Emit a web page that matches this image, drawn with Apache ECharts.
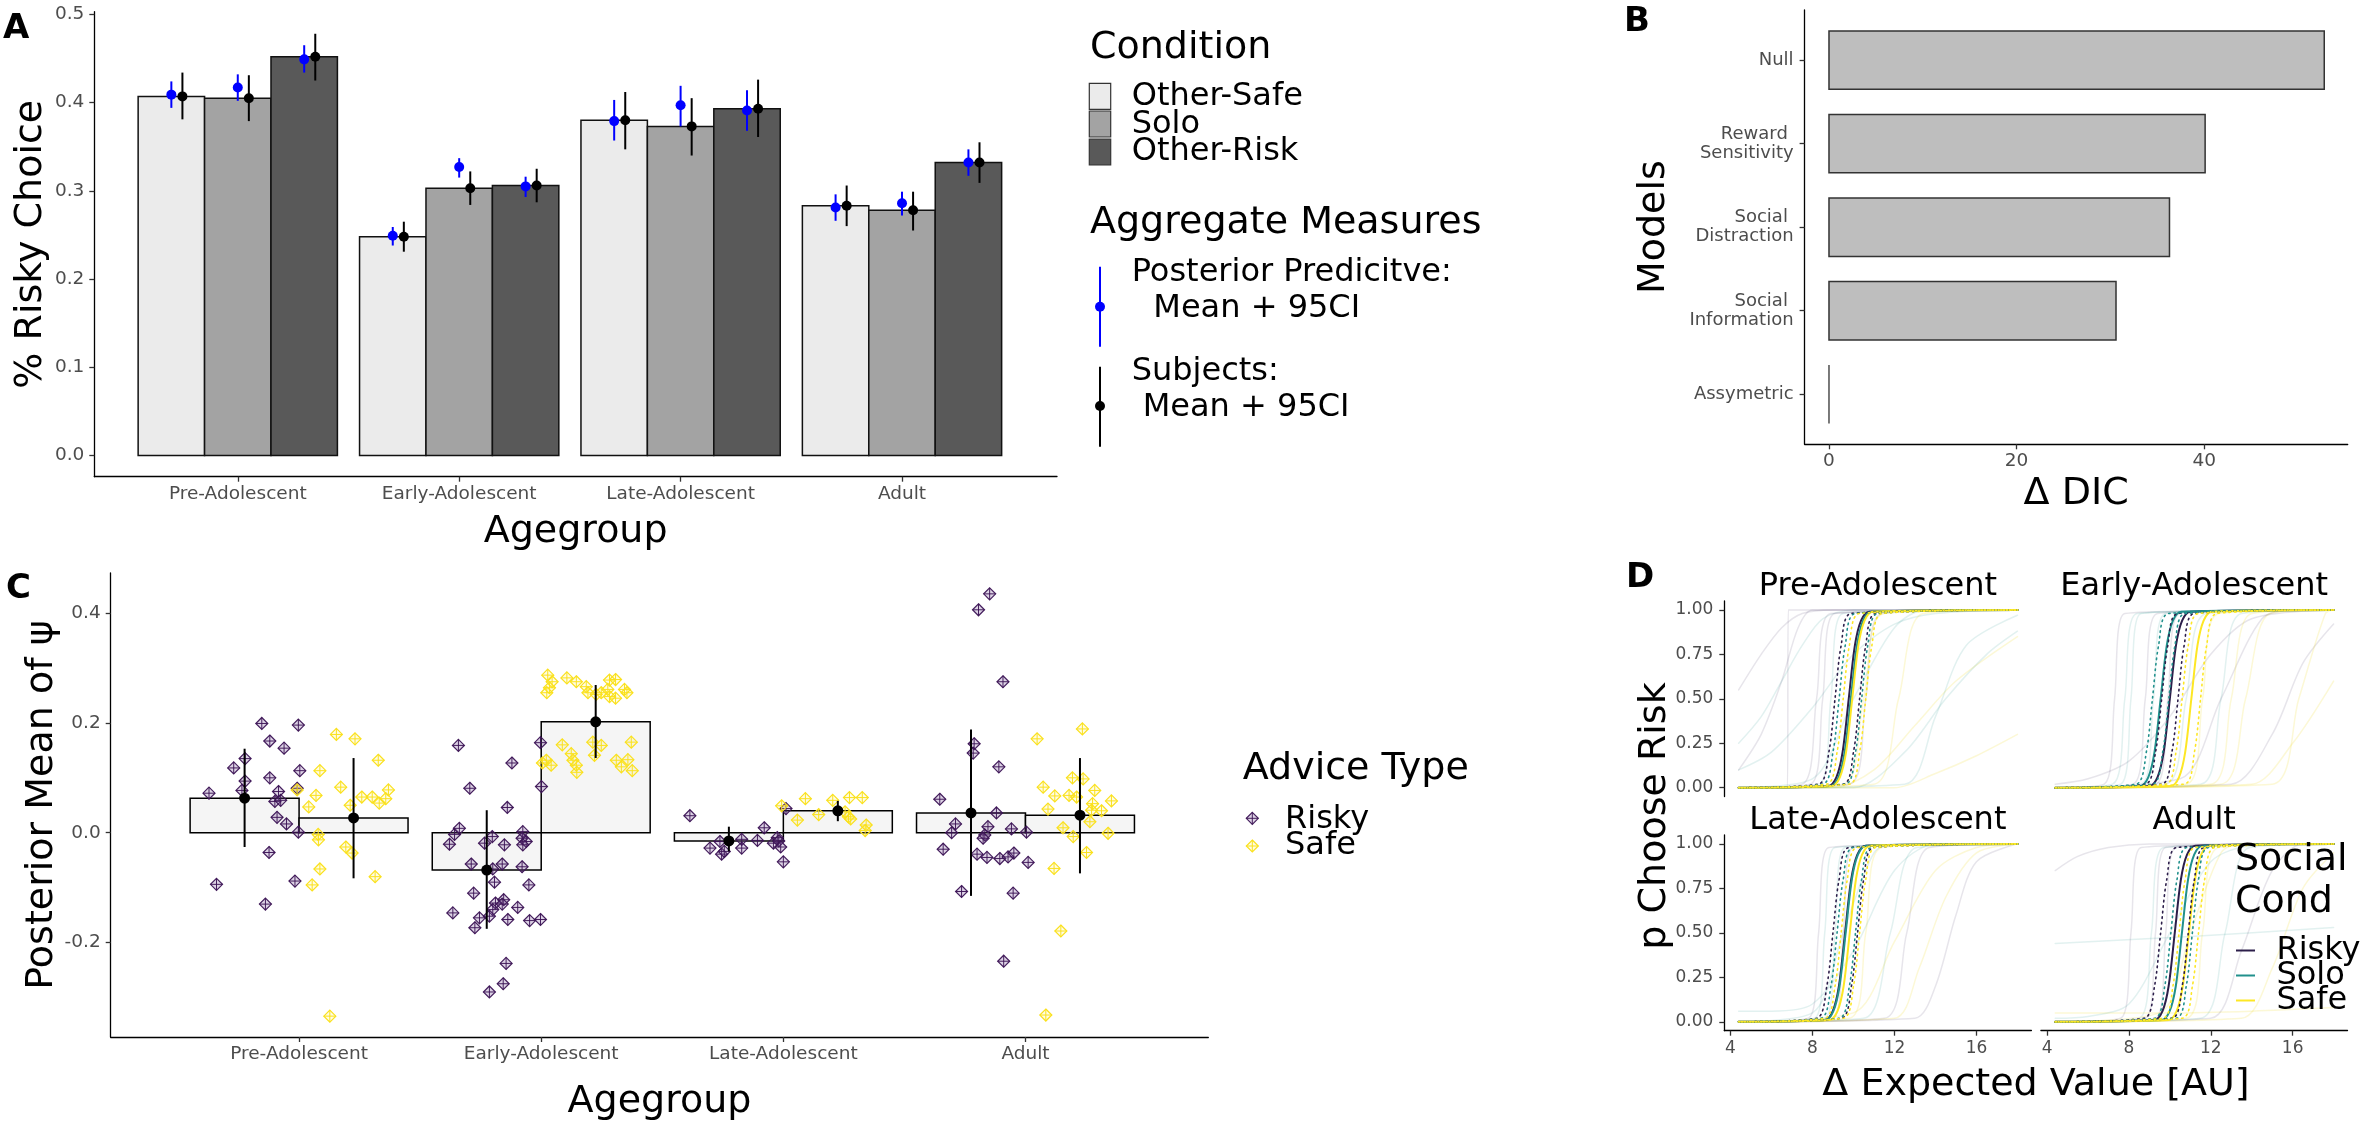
<!DOCTYPE html>
<html><head><meta charset="utf-8">
<script src="https://cdn.jsdelivr.net/npm/echarts@6/dist/echarts.min.js"></script>
<style>html,body{margin:0;padding:0;background:#fff}#c{width:2363px;height:1122px}</style>
</head><body><div id="c"></div>
<script>
const FONT = 'DejaVu Sans';

// ---------- Panel A ----------
const ageGroups = ['Pre-Adolescent', 'Early-Adolescent', 'Late-Adolescent', 'Adult'];
const conditions = ['Other-Safe', 'Solo', 'Other-Risk'];
const barOtherSafe = [0.407, 0.248, 0.380, 0.283];
const barSolo      = [0.405, 0.303, 0.373, 0.278];
const barOtherRisk = [0.452, 0.306, 0.393, 0.332];
const subjLoOtherSafe = [0.381, 0.231, 0.347, 0.260];
const subjHiOtherSafe = [0.434, 0.265, 0.412, 0.306];
const subjLoSolo      = [0.379, 0.284, 0.340, 0.255];
const subjHiSolo      = [0.431, 0.322, 0.405, 0.299];
const subjLoOtherRisk = [0.425, 0.287, 0.361, 0.309];
const subjHiOtherRisk = [0.478, 0.325, 0.426, 0.355];
const ppOtherSafe   = [0.409, 0.249, 0.379, 0.281];
const ppLoOtherSafe = [0.394, 0.238, 0.357, 0.266];
const ppHiOtherSafe = [0.424, 0.259, 0.403, 0.296];
const ppSolo        = [0.417, 0.327, 0.397, 0.286];
const ppLoSolo      = [0.402, 0.315, 0.373, 0.272];
const ppHiSolo      = [0.432, 0.337, 0.419, 0.299];
const ppOtherRisk   = [0.449, 0.305, 0.391, 0.332];
const ppLoOtherRisk = [0.434, 0.293, 0.368, 0.317];
const ppHiOtherRisk = [0.465, 0.316, 0.414, 0.347];
const ticksA = [0, 0.1, 0.2, 0.3, 0.4, 0.5];

// ---------- Panel B ----------
const modelNames = ['Assymetric', 'Social \nInformation', 'Social \nDistraction', 'Reward \nSensitivity', 'Null'];
const deltaDIC = [0, 30.6, 36.3, 40.1, 52.8];
const ticksB = [0, 20, 40];

// ---------- Panel C ----------
const adviceTypes = ['Risky', 'Safe'];
const meanRisky = [0.063, -0.068, -0.015, 0.036];
const loRisky   = [-0.026, -0.175, -0.034, -0.115];
const hiRisky   = [0.153, 0.041, 0.011, 0.188];
const meanSafe  = [0.027, 0.202, 0.040, 0.032];
const loSafe    = [-0.083, 0.136, 0.021, -0.074];
const hiSafe    = [0.136, 0.269, 0.058, 0.136];
const ticksC = [-0.2, 0, 0.2, 0.4];
const riskyPoints = [
  [0.628,0.072],[0.659,-0.094],[0.730,0.118],[0.777,0.135],[0.764,0.077],[0.777,0.094],[0.846,0.199],[0.879,0.167],
  [0.938,0.154],[0.879,0.100],[0.915,0.075],[0.900,0.057],[0.924,0.059],[0.909,0.028],[0.948,0.016],[0.997,0.196],
  [1.003,0.113],[0.992,0.081],[0.997,0.001],[0.876,-0.036],[0.983,-0.088],[0.861,-0.130],
  [1.658,0.159],[1.997,0.164],[1.879,0.127],[1.705,0.081],[2.001,0.084],[1.860,0.046],[1.621,-0.021],[1.642,-0.003],
  [1.662,0.008],[1.766,-0.019],[1.798,-0.007],[1.848,-0.022],[1.924,0.002],[1.921,-0.010],[1.938,-0.016],[1.924,-0.022],
  [1.711,-0.057],[1.839,-0.057],[1.921,-0.062],[1.800,-0.066],[1.807,-0.090],[1.949,-0.095],[1.721,-0.110],[1.635,-0.146],
  [1.845,-0.122],[1.811,-0.128],[1.839,-0.130],[1.800,-0.140],[1.903,-0.136],[1.745,-0.155],[1.786,-0.152],[1.862,-0.158],
  [1.952,-0.160],[1.997,-0.158],[1.726,-0.173],[1.855,-0.238],[1.843,-0.275],[1.786,-0.290],
  [2.614,0.031],[2.697,-0.028],[2.738,-0.016],[2.745,-0.039],[2.756,-0.034],[2.828,-0.012],[2.828,-0.028],[2.893,-0.014],
  [2.921,0.009],[2.959,-0.019],[2.975,-0.009],[2.981,-0.015],[2.989,-0.026],[3.000,-0.053],[3.011,0.044],
  [3.852,0.435],[3.806,0.406],[3.907,0.275],[3.788,0.162],[3.784,0.145],[3.890,0.120],[3.646,0.061],[3.880,0.036],
  [3.711,0.016],[3.695,0.000],[3.845,0.011],[3.832,-0.004],[3.825,-0.010],[3.942,0.007],[4.004,0.001],[3.660,-0.030],
  [3.800,-0.039],[3.841,-0.045],[3.894,-0.047],[3.928,-0.044],[3.952,-0.037],[4.011,-0.054],[3.736,-0.107],[3.949,-0.110],
  [3.910,-0.234]
];
const safePoints = [
  [1.154,0.179],[1.231,0.171],[1.327,0.132],[1.086,0.113],[1.172,0.083],[0.992,0.078],[1.070,0.068],[1.040,0.047],
  [1.211,0.050],[1.259,0.065],[1.302,0.065],[1.331,0.054],[1.358,0.062],[1.369,0.078],[1.079,-0.003],[1.080,-0.013],
  [1.193,-0.026],[1.219,-0.037],[1.086,-0.066],[1.054,-0.095],[1.314,-0.080],[1.127,-0.334],
  [2.027,0.287],[2.045,0.275],[2.034,0.264],[2.023,0.255],[2.106,0.282],[2.145,0.275],[2.186,0.266],[2.193,0.255],
  [2.227,0.252],[2.248,0.255],[2.275,0.261],[2.282,0.248],[2.307,0.245],[2.282,0.278],[2.307,0.279],[2.344,0.261],
  [2.354,0.255],[2.087,0.160],[2.021,0.132],[2.041,0.123],[2.124,0.144],[2.131,0.132],[2.145,0.123],[2.147,0.110],
  [2.213,0.165],[2.248,0.159],[2.220,0.141],[2.310,0.132],[2.331,0.120],[2.358,0.133],[2.372,0.165],[2.376,0.113],
  [2.005,0.127],
  [2.993,0.049],[3.091,0.062],[3.146,0.033],[3.058,0.023],[3.204,0.059],[3.273,0.064],[3.326,0.064],[3.255,0.038],
  [3.269,0.029],[3.278,0.025],[3.342,0.014],[3.338,0.004],
  [4.235,0.189],[4.048,0.171],[4.194,0.100],[4.238,0.098],[4.073,0.083],[4.286,0.077],[4.121,0.067],[4.180,0.068],
  [4.211,0.065],[4.355,0.058],[4.277,0.053],[4.093,0.043],[4.314,0.040],[4.266,0.020],[4.155,0.009],[4.197,-0.007],
  [4.341,-0.001],[4.252,-0.036],[4.118,-0.065],[4.146,-0.179],[4.084,-0.332],[4.273,0.041]
];

// ---------- Panel D ----------
const socialConds = ['Risky', 'Solo', 'Safe'];
const ticksDx = [4, 8, 12, 16];
const ticksDy = [0, 0.25, 0.5, 0.75, 1];
// main (group) curves per facet: [Risky, Solo, Safe]
const mainPre = [
  [[4.4,0],[8.77,0.01],[9.17,0.06],[9.47,0.2],[9.77,0.5],[10.07,0.8],[10.37,0.94],[10.77,0.99],[18,1]],
  [[4.4,0],[8.87,0.01],[9.27,0.06],[9.57,0.2],[9.87,0.5],[10.17,0.8],[10.47,0.94],[10.87,0.99],[18,1]],
  [[4.4,0],[8.94,0.01],[9.34,0.06],[9.64,0.2],[9.94,0.5],[10.24,0.8],[10.54,0.94],[10.94,0.99],[18,1]]
];
const mainEarly = [
  [[4.4,0],[9.0,0.01],[9.4,0.06],[9.7,0.2],[10.0,0.5],[10.3,0.8],[10.6,0.94],[11.0,0.99],[18,1]],
  [[4.4,0],[8.55,0.01],[8.95,0.06],[9.25,0.2],[9.55,0.5],[9.85,0.8],[10.15,0.94],[10.55,0.99],[18,1]],
  [[4.4,0],[10.05,0.01],[10.45,0.06],[10.75,0.2],[11.05,0.5],[11.35,0.8],[11.65,0.94],[12.05,0.99],[18,1]]
];
const mainLate = [
  [[4.4,0],[8.59,0.01],[8.99,0.06],[9.29,0.2],[9.59,0.5],[9.89,0.8],[10.19,0.94],[10.59,0.99],[18,1]],
  [[4.4,0],[8.62,0.01],[9.02,0.06],[9.32,0.2],[9.62,0.5],[9.92,0.8],[10.22,0.94],[10.62,0.99],[18,1]],
  [[4.4,0],[8.82,0.01],[9.22,0.06],[9.52,0.2],[9.82,0.5],[10.12,0.8],[10.42,0.94],[10.82,0.99],[18,1]]
];
const mainAdult = [
  [[4.4,0],[9.24,0.01],[9.64,0.06],[9.94,0.2],[10.24,0.5],[10.54,0.8],[10.84,0.94],[11.24,0.99],[18,1]],
  [[4.4,0],[9.59,0.01],[9.99,0.06],[10.29,0.2],[10.59,0.5],[10.89,0.8],[11.19,0.94],[11.59,0.99],[18,1]],
  [[4.4,0],[9.93,0.01],[10.33,0.06],[10.63,0.2],[10.93,0.5],[11.23,0.8],[11.53,0.94],[11.93,0.99],[18,1]]
];
// dotted interval curves per facet: [[RiskyLo, RiskyHi], [SoloLo, SoloHi], [SafeLo, SafeHi]]
const dottedPre = [
  [[[4.4,0],[8.3,0.02],[8.8,0.2],[9.1,0.5],[9.4,0.8],[9.9,0.98],[18,1]], [[4.4,0],[9.5,0.02],[10.0,0.2],[10.3,0.5],[10.6,0.8],[11.1,0.98],[18,1]]],
  [[[4.4,0],[8.5,0.02],[9.0,0.2],[9.3,0.5],[9.6,0.8],[10.1,0.98],[18,1]], [[4.4,0],[9.6,0.02],[10.1,0.2],[10.4,0.5],[10.7,0.8],[11.2,0.98],[18,1]]],
  [[[4.4,0],[8.7,0.02],[9.2,0.2],[9.5,0.5],[9.8,0.8],[10.3,0.98],[18,1]], [[4.4,0],[9.8,0.02],[10.3,0.2],[10.6,0.5],[10.9,0.8],[11.4,0.98],[18,1]]]
];
const dottedEarly = [
  [[[4.4,0],[8.8,0.02],[9.3,0.2],[9.6,0.5],[9.9,0.8],[10.4,0.98],[18,1]], [[4.4,0],[9.6,0.02],[10.1,0.2],[10.4,0.5],[10.7,0.8],[11.2,0.98],[18,1]]],
  [[[4.4,0],[8.35,0.02],[8.85,0.2],[9.15,0.5],[9.45,0.8],[9.95,0.98],[18,1]], [[4.4,0],[9.15,0.02],[9.65,0.2],[9.95,0.5],[10.25,0.8],[10.75,0.98],[18,1]]],
  [[[4.4,0],[9.8,0.02],[10.3,0.2],[10.6,0.5],[10.9,0.8],[11.4,0.98],[18,1]], [[4.4,0],[10.7,0.02],[11.2,0.2],[11.5,0.5],[11.8,0.8],[12.3,0.98],[18,1]]]
];
const dottedLate = [
  [[[4.4,0],[8.2,0.02],[8.7,0.2],[9.0,0.5],[9.3,0.8],[9.8,0.98],[18,1]], [[4.4,0],[9.4,0.02],[9.9,0.2],[10.2,0.5],[10.5,0.8],[11.0,0.98],[18,1]]],
  [[[4.4,0],[8.4,0.02],[8.9,0.2],[9.2,0.5],[9.5,0.8],[10.0,0.98],[18,1]], [[4.4,0],[9.3,0.02],[9.8,0.2],[10.1,0.5],[10.4,0.8],[10.9,0.98],[18,1]]],
  [[[4.4,0],[8.6,0.02],[9.1,0.2],[9.4,0.5],[9.7,0.8],[10.2,0.98],[18,1]], [[4.4,0],[9.5,0.02],[10.0,0.2],[10.3,0.5],[10.6,0.8],[11.1,0.98],[18,1]]]
];
const dottedAdult = [
  [[[4.4,0],[8.75,0.02],[9.25,0.2],[9.55,0.5],[9.85,0.8],[10.35,0.98],[18,1]], [[4.4,0],[10.1,0.02],[10.6,0.2],[10.9,0.5],[11.2,0.8],[11.7,0.98],[18,1]]],
  [[[4.4,0],[9.25,0.02],[9.75,0.2],[10.05,0.5],[10.35,0.8],[10.85,0.98],[18,1]], [[4.4,0],[10.3,0.02],[10.8,0.2],[11.1,0.5],[11.4,0.8],[11.9,0.98],[18,1]]],
  [[[4.4,0],[9.65,0.02],[10.15,0.2],[10.45,0.5],[10.75,0.8],[11.25,0.98],[18,1]], [[4.4,0],[10.6,0.02],[11.1,0.2],[11.4,0.5],[11.7,0.8],[12.2,0.98],[18,1]]]
];
// individual subject curves per facet: [conditionIndex, points]
const faintPre = [
  [0, [[4.4,0.55],[5.5,0.75],[6.5,0.9],[7.5,0.98],[9,1],[18,1]]],
  [1, [[4.4,0.25],[5.5,0.4],[6.5,0.6],[7.5,0.8],[8.5,0.95],[10,1],[18,1]]],
  [1, [[4.4,0.1],[6,0.2],[8,0.45],[10,0.75],[12,0.92],[14,0.98],[18,1]]],
  [0, [[4.4,0],[6.78,0],[6.82,1],[18,1]]],
  [2, [[4.4,0],[9,0],[11,0.1],[13,0.35],[15,0.6],[18,0.85]]],
  [1, [[4.4,0],[10,0],[12.5,0.2],[14.5,0.5],[16.5,0.75],[18,0.88]]],
  [2, [[4.4,0],[12,0],[14,0.08],[16,0.18],[18,0.3]]],
  [0, [[4.4,0],[7.5,0.02],[8.2,0.5],[8.9,0.98],[18,1]]],
  [1, [[4.4,0],[8.3,0.02],[8.9,0.5],[9.5,0.98],[18,1]]],
  [0, [[4.4,0],[9.8,0.02],[10.6,0.5],[11.4,0.98],[18,1]]],
  [2, [[4.4,0],[9.5,0.02],[10.5,0.5],[11.5,0.98],[18,1]]],
  [1, [[4.4,0],[8,0.05],[10,0.5],[12,0.9],[13.5,1],[18,1]]],
  [0, [[4.4,0.1],[5.5,0.3],[6.5,0.6],[7.3,0.9],[8,1],[18,1]]],
  [2, [[4.4,0],[11,0.02],[12.2,0.5],[13.4,0.98],[18,1]]],
  [0, [[4.4,0],[7.9,0.02],[8.5,0.5],[9.1,0.98],[18,1]]],
  [1, [[4.4,0],[12.5,0.02],[14,0.4],[15.5,0.8],[18,0.97]]]
];
const faintEarly = [
  [0, [[4.4,0.02],[6,0.05],[8,0.15],[10,0.4],[12,0.75],[14,0.95],[18,1]]],
  [1, [[4.4,0],[7.2,0.02],[7.8,0.5],[8.4,0.98],[18,1]]],
  [0, [[4.4,0],[8.2,0.02],[8.8,0.5],[9.4,0.98],[18,1]]],
  [2, [[4.4,0],[10.8,0.02],[11.6,0.5],[12.4,0.98],[18,1]]],
  [1, [[4.4,0],[11.5,0.02],[12.5,0.5],[13.5,0.98],[18,1]]],
  [2, [[4.4,0],[12.5,0.02],[13.7,0.5],[14.9,0.98],[18,1]]],
  [0, [[4.4,0],[13,0.02],[15,0.3],[16.5,0.7],[18,0.92]]],
  [2, [[4.4,0],[14,0.02],[16,0.25],[18,0.6]]],
  [1, [[4.4,0],[9.8,0.02],[10.8,0.5],[11.8,0.98],[18,1]]],
  [2, [[4.4,0],[15,0.02],[16.3,0.5],[17.6,0.98],[18,1]]],
  [0, [[4.4,0],[10.5,0.05],[12.5,0.5],[14.5,0.95],[16,1],[18,1]]],
  [1, [[4.4,0],[8.6,0.02],[9.2,0.5],[9.8,0.98],[18,1]]],
  [2, [[4.4,0],[12,0.02],[13,0.5],[14,0.98],[18,1]]],
  [0, [[4.4,0],[6.8,0.02],[7.3,0.5],[7.8,0.98],[18,1]]],
  [1, [[4.4,0],[7.6,0.02],[8.1,0.5],[8.6,0.98],[18,1]]],
  [0, [[4.4,0],[9.3,0.02],[9.9,0.5],[10.5,0.98],[18,1]]]
];
const faintLate = [
  [0, [[4.4,0],[7.8,0.02],[8.3,0.5],[8.8,0.98],[18,1]]],
  [1, [[4.4,0],[8.6,0.02],[9.1,0.5],[9.6,0.98],[18,1]]],
  [2, [[4.4,0],[9.8,0.02],[10.6,0.5],[11.4,0.98],[18,1]]],
  [1, [[4.4,0],[10.5,0.02],[11.8,0.5],[13.1,0.98],[18,1]]],
  [0, [[4.4,0],[11.5,0.02],[12.6,0.5],[13.7,0.98],[18,1]]],
  [2, [[4.4,0],[12,0.02],[13.2,0.3],[14.5,0.7],[16,0.95],[18,1]]],
  [1, [[4.4,0.06],[6,0.06],[8,0.1],[10,0.4],[12,0.85],[14,1],[18,1]]],
  [0, [[4.4,0],[9,0.02],[9.5,0.5],[10,0.98],[18,1]]],
  [2, [[4.4,0],[10,0.05],[12,0.45],[14,0.85],[16,0.98],[18,1]]],
  [1, [[4.4,0],[8,0.05],[9.5,0.5],[11,0.95],[12,1],[18,1]]],
  [0, [[4.4,0],[13,0.02],[14,0.2],[15,0.6],[16,0.9],[18,1]]],
  [1, [[4.4,0],[8.1,0.02],[8.6,0.5],[9.1,0.98],[18,1]]]
];
const faintAdult = [
  [1, [[4.4,0.44],[11,0.48],[18,0.53]]],
  [0, [[4.4,0.85],[5.5,0.93],[7,0.98],[9,1],[18,1]]],
  [2, [[4.4,0.05],[10,0.05],[14,0.06],[18,0.08]]],
  [0, [[4.4,0],[7.6,0.02],[8.1,0.5],[8.6,0.98],[18,1]]],
  [1, [[4.4,0],[8.5,0.02],[9.1,0.5],[9.7,0.98],[18,1]]],
  [2, [[4.4,0],[10.8,0.02],[11.6,0.5],[12.4,0.98],[18,1]]],
  [1, [[4.4,0],[11.5,0.02],[12.7,0.5],[13.9,0.98],[18,1]]],
  [0, [[4.4,0],[12,0.02],[13.5,0.4],[15,0.85],[16.5,1],[18,1]]],
  [2, [[4.4,0],[9.5,0.05],[11,0.5],[12.5,0.95],[13.5,1],[18,1]]],
  [0, [[4.4,0],[9.3,0.02],[9.8,0.5],[10.3,0.98],[18,1]]],
  [1, [[4.4,0.02],[6,0.03],[8,0.1],[10,0.5],[12,0.9],[14,0.99],[18,1]]],
  [2, [[4.4,0],[13.5,0.02],[15,0.3],[16.5,0.75],[18,0.95]]],
  [0, [[4.4,0],[8.8,0.02],[9.3,0.5],[9.8,0.98],[18,1]]]
];

// ================= build chart =================
const chart = echarts.init(document.getElementById('c'), null, {renderer: 'canvas', width: 2363, height: 1122});
const TICK_COL = '#333333', LABEL_COL = '#4d4d4d';

function axLine(show) { return {show: show, onZero: false, lineStyle: {color: '#000', width: 1.3}}; }
function axTick(show, vals) { return {show: show, customValues: vals, length: 5, lineStyle: {color: TICK_COL, width: 1.3}}; }
function axLabel(show, vals, fmt, size, margin, extra) {
  return Object.assign({show: show, customValues: vals, formatter: fmt, fontSize: size, color: LABEL_COL, fontFamily: FONT, margin: margin}, extra || {});
}
function nameStyle(size) { return {fontSize: size, color: '#000', fontFamily: FONT}; }

const grids = [
  {left: 94.3, top: 11.7, width: 962.7, height: 465},        // A
  {left: 1804.6, top: 10, width: 543.1, height: 434.3},      // B
  {left: 110.7, top: 573, width: 1097.6, height: 466.3},     // C
  {left: 1724.3, top: 601, width: 307.1, height: 195.6},     // D Pre
  {left: 2040.9, top: 601, width: 306.6, height: 195.6},     // D Early
  {left: 1724.3, top: 835, width: 307.1, height: 195.7},     // D Late
  {left: 2040.9, top: 835, width: 306.6, height: 195.7}      // D Adult
];

const xAxes = [], yAxes = [];
// A
xAxes.push({gridIndex: 0, type: 'value', min: 0.352, max: 4.70, splitLine: {show: false},
  axisLine: axLine(true), axisTick: axTick(true, [1, 2, 3, 4]),
  axisLabel: axLabel(true, [1, 2, 3, 4], v => ageGroups[Math.round(v) - 1], 18.5, 8),
  name: 'Agegroup', nameLocation: 'middle', nameGap: 36, nameTextStyle: nameStyle(38)});
yAxes.push({gridIndex: 0, type: 'value', min: -0.024, max: 0.503, splitLine: {show: false},
  axisLine: axLine(true), axisTick: axTick(true, ticksA),
  axisLabel: axLabel(true, ticksA, v => v.toFixed(1), 18.5, 10),
  name: '% Risky Choice', nameLocation: 'middle', nameRotate: 90, nameGap: 44, nameTextStyle: nameStyle(38)});
// B
xAxes.push({gridIndex: 1, type: 'value', min: -2.6, max: 55.3, splitLine: {show: false},
  axisLine: axLine(true), axisTick: axTick(true, ticksB),
  axisLabel: axLabel(true, ticksB, v => String(v), 18.5, 7),
  name: 'Δ DIC', nameLocation: 'middle', nameGap: 31, nameTextStyle: nameStyle(38)});
yAxes.push({gridIndex: 1, type: 'value', min: 0.4, max: 5.6, splitLine: {show: false},
  axisLine: axLine(true), axisTick: axTick(true, [1, 2, 3, 4, 5]),
  axisLabel: axLabel(true, [1, 2, 3, 4, 5], v => modelNames[Math.round(v) - 1], 18, 11, {lineHeight: 19, align: 'right'}),
  name: 'Models', nameLocation: 'middle', nameRotate: 90, nameGap: 131, nameTextStyle: nameStyle(38)});
// C
xAxes.push({gridIndex: 2, type: 'value', min: 0.222, max: 4.755, splitLine: {show: false},
  axisLine: axLine(true), axisTick: axTick(true, [1, 2, 3, 4]),
  axisLabel: axLabel(true, [1, 2, 3, 4], v => ageGroups[Math.round(v) - 1], 18.5, 8),
  name: 'Agegroup', nameLocation: 'middle', nameGap: 46, nameTextStyle: nameStyle(38)});
yAxes.push({gridIndex: 2, type: 'value', min: -0.372, max: 0.473, splitLine: {show: false},
  axisLine: axLine(true), axisTick: axTick(true, ticksC),
  axisLabel: axLabel(true, ticksC, v => v.toFixed(1), 18.5, 10),
  name: 'Posterior Mean of ψ', nameLocation: 'middle', nameRotate: 90, nameGap: 42, nameTextStyle: nameStyle(38)});
// D facets
for (let k = 0; k < 4; k++) {
  const bottom = k >= 2, left = (k % 2) === 0;
  xAxes.push({gridIndex: 3 + k, type: 'value', min: 3.7, max: 18.68, splitLine: {show: false},
    axisLine: axLine(bottom), axisTick: axTick(bottom, ticksDx),
    axisLabel: axLabel(bottom, ticksDx, v => String(v), 17, 9)});
  yAxes.push({gridIndex: 3 + k, type: 'value', min: -0.05, max: 1.05, splitLine: {show: false},
    axisLine: axLine(left), axisTick: axTick(left, ticksDy),
    axisLabel: axLabel(left, ticksDy, v => v.toFixed(2), 17, 11)});
}

const series = [];
// ---- A bars ----
const condFill = ['#ebebeb', '#a3a3a3', '#595959'];
const barSets = [barOtherSafe, barSolo, barOtherRisk];
function rectSeries(ax, rows, left, width, fill, stroke, lw, z) {
  return {type: 'custom', xAxisIndex: ax, yAxisIndex: ax, data: rows, z: z || 2, silent: true,
    renderItem: function (params, api) {
      const x = api.value(0), v = api.value(1);
      const p1 = api.coord([x + left, v]);
      const p2 = api.coord([x + left + width, 0]);
      return {type: 'rect', shape: {x: Math.min(p1[0], p2[0]), y: Math.min(p1[1], p2[1]),
        width: Math.abs(p2[0] - p1[0]), height: Math.abs(p2[1] - p1[1])},
        style: {fill: fill, stroke: stroke, lineWidth: lw}};
    }};
}
function errSeries(ax, rows, offset, color, r, lw, z) {
  return {type: 'custom', xAxisIndex: ax, yAxisIndex: ax, data: rows, z: z || 5, silent: true,
    renderItem: function (params, api) {
      const x = api.value(0) + offset;
      const top = api.coord([x, api.value(3)]);
      const bot = api.coord([x, api.value(2)]);
      const mid = api.coord([x, api.value(1)]);
      return {type: 'group', children: [
        {type: 'line', shape: {x1: top[0], y1: top[1], x2: bot[0], y2: bot[1]}, style: {stroke: color, lineWidth: lw}},
        {type: 'circle', shape: {cx: mid[0], cy: mid[1], r: r}, style: {fill: color}}
      ]};
    }};
}
for (let j = 0; j < 3; j++) {
  series.push(rectSeries(0, barSets[j].map((v, i) => [i + 1, v]), -0.45 + 0.3 * j, 0.3, condFill[j], '#111', 1.5, 2));
}
const ppSets = [[ppOtherSafe, ppLoOtherSafe, ppHiOtherSafe], [ppSolo, ppLoSolo, ppHiSolo], [ppOtherRisk, ppLoOtherRisk, ppHiOtherRisk]];
const subjSets = [[barOtherSafe, subjLoOtherSafe, subjHiOtherSafe], [barSolo, subjLoSolo, subjHiSolo], [barOtherRisk, subjLoOtherRisk, subjHiOtherRisk]];
for (let j = 0; j < 3; j++) {
  const s = ppSets[j];
  series.push(errSeries(0, s[0].map((v, i) => [i + 1, v, s[1][i], s[2][i]]), -0.3 + 0.3 * j, '#0000ff', 5, 2, 5));
}
for (let j = 0; j < 3; j++) {
  const s = subjSets[j];
  series.push(errSeries(0, s[0].map((v, i) => [i + 1, v, s[1][i], s[2][i]]), -0.25 + 0.3 * j, '#000000', 5, 2, 6));
}
// ---- B bars ----
series.push({type: 'custom', xAxisIndex: 1, yAxisIndex: 1, silent: true, z: 2,
  data: deltaDIC.map((v, i) => [v, i + 1]),
  renderItem: function (params, api) {
    const v = api.value(0), c = api.value(1);
    const p1 = api.coord([0, c + 0.35]);
    const p2 = api.coord([v, c - 0.35]);
    if (v === 0) {
      return {type: 'line', shape: {x1: p1[0], y1: p1[1], x2: p1[0], y2: p2[1]}, style: {stroke: '#333', lineWidth: 1.3}};
    }
    return {type: 'rect', shape: {x: p1[0], y: p1[1], width: p2[0] - p1[0], height: p2[1] - p1[1]},
      style: {fill: '#bebebe', stroke: '#333', lineWidth: 1.5}};
  }});
// ---- C ----
series.push(rectSeries(2, meanRisky.map((v, i) => [i + 1, v]), -0.45, 0.45, '#f5f5f5', '#000', 1.5, 2));
series.push(rectSeries(2, meanSafe.map((v, i) => [i + 1, v]), 0, 0.45, '#f5f5f5', '#000', 1.5, 2));
const RISKY_COL = 'rgba(60,20,85,0.95)', SAFE_COL = 'rgba(250,225,30,1)';
function diamondPlusSeries(points, stroke, fill) {
  return {type: 'custom', xAxisIndex: 2, yAxisIndex: 2, data: points, z: 3, silent: true,
    renderItem: function (params, api) {
      const p = api.coord([api.value(0), api.value(1)]);
      const h = 6;
      return {type: 'group', children: [
        {type: 'polygon', shape: {points: [[p[0], p[1] - h], [p[0] + h, p[1]], [p[0], p[1] + h], [p[0] - h, p[1]]]},
          style: {fill: fill, stroke: stroke, lineWidth: 1.2}},
        {type: 'line', shape: {x1: p[0], y1: p[1] - h, x2: p[0], y2: p[1] + h}, style: {stroke: stroke, lineWidth: 1}},
        {type: 'line', shape: {x1: p[0] - h, y1: p[1], x2: p[0] + h, y2: p[1]}, style: {stroke: stroke, lineWidth: 1}}
      ]};
    }};
}
series.push(diamondPlusSeries(riskyPoints, RISKY_COL, 'rgba(120,80,150,0.25)'));
series.push(diamondPlusSeries(safePoints, SAFE_COL, 'rgba(253,231,37,0.12)'));
series.push(errSeries(2, meanRisky.map((v, i) => [i + 1, v, loRisky[i], hiRisky[i]]), -0.225, '#000', 5.5, 2, 6));
series.push(errSeries(2, meanSafe.map((v, i) => [i + 1, v, loSafe[i], hiSafe[i]]), 0.225, '#000', 5.5, 2, 6));
// ---- D ----
const dMain = [mainPre, mainEarly, mainLate, mainAdult];
const dDotted = [dottedPre, dottedEarly, dottedLate, dottedAdult];
const dFaint = [faintPre, faintEarly, faintLate, faintAdult];
const condLine = ['#2c1e4a', '#21908c', '#fde725'];
const condFaint = ['rgba(60,40,90,0.12)', 'rgba(33,144,140,0.13)', 'rgba(240,215,30,0.18)'];
function lineS(k, pts, color, width, type, z) {
  return {type: 'line', xAxisIndex: 3 + k, yAxisIndex: 3 + k, data: pts, showSymbol: false, symbol: 'none',
    smooth: 0.3, silent: true, z: z, clip: true,
    lineStyle: {color: color, width: width, type: type || 'solid', cap: 'round'}};
}
for (let k = 0; k < 4; k++) {
  dFaint[k].forEach(f => series.push(lineS(k, f[1], condFaint[f[0]], 1.5, 'solid', 2)));
  for (let c = 0; c < 3; c++) series.push(lineS(k, dMain[k][c], condLine[c], 2, 'solid', 3));
  for (let c = 0; c < 3; c++) {
    series.push(lineS(k, dDotted[k][c][0], condLine[c], 1.6, [1.5, 4], 4));
    series.push(lineS(k, dDotted[k][c][1], condLine[c], 1.6, [1.5, 4], 4));
  }
}

// ---- graphic: legends, strips, panel letters ----
function T(text, x, y, size, o) {
  o = o || {};
  return {type: 'text', x: x, y: y, rotation: o.rot || 0, silent: true, z: 100,
    style: {text: text, fontSize: size, fontFamily: FONT, fontWeight: o.bold ? 'bold' : 'normal', fill: o.fill || '#000',
      align: o.align || 'left', textAlign: o.align || 'left', verticalAlign: 'middle', textVerticalAlign: 'middle'}};
}
const G = [];
// panel letters
G.push(T('A', 3, 29, 34, {bold: true}));
G.push(T('B', 1624, 22, 34, {bold: true}));
G.push(T('C', 6, 589, 34, {bold: true}));
G.push(T('D', 1626, 578, 34, {bold: true}));
// legend A: Condition
G.push(T('Condition', 1090, 48.4, 38));
const keyY = [83.3, 111, 139];
conditions.forEach((c, j) => {
  G.push({type: 'rect', silent: true, z: 100, shape: {x: 1089.3, y: keyY[j], width: 21.4, height: 26},
    style: {fill: condFill[j], stroke: '#333', lineWidth: 1.2}});
  G.push(T(c, 1131.7, [97.1, 124.8, 152.1][j], 32));
});
// legend A: Aggregate Measures
G.push(T('Aggregate Measures', 1090, 223.4, 38));
G.push({type: 'line', silent: true, z: 100, shape: {x1: 1100, y1: 266.7, x2: 1100, y2: 346.7}, style: {stroke: '#0000ff', lineWidth: 2}});
G.push({type: 'circle', silent: true, z: 100, shape: {cx: 1100, cy: 306.7, r: 5}, style: {fill: '#0000ff'}});
G.push(T('Posterior Predicitve:', 1131.7, 272.3, 32));
G.push(T('Mean + 95CI', 1153.3, 308.3, 32));
G.push({type: 'line', silent: true, z: 100, shape: {x1: 1100, y1: 366.7, x2: 1100, y2: 446.7}, style: {stroke: '#000', lineWidth: 2}});
G.push({type: 'circle', silent: true, z: 100, shape: {cx: 1100, cy: 406, r: 5}, style: {fill: '#000'}});
G.push(T('Subjects:', 1131.7, 371.7, 32));
G.push(T('Mean + 95CI', 1142.7, 407.3, 32));
// legend C
G.push(T('Advice Type', 1242.7, 769.4, 38));
const advCols = [RISKY_COL, SAFE_COL];
const advFill = ['rgba(120,80,150,0.25)', 'rgba(253,231,37,0.12)'];
[818.3, 846].forEach((cy, j) => {
  const cx = 1252.3, h = 6;
  G.push({type: 'polygon', silent: true, z: 100, shape: {points: [[cx, cy - h], [cx + h, cy], [cx, cy + h], [cx - h, cy]]},
    style: {fill: advFill[j], stroke: advCols[j], lineWidth: 1.2}});
  G.push({type: 'line', silent: true, z: 100, shape: {x1: cx, y1: cy - h, x2: cx, y2: cy + h}, style: {stroke: advCols[j], lineWidth: 1}});
  G.push({type: 'line', silent: true, z: 100, shape: {x1: cx - h, y1: cy, x2: cx + h, y2: cy}, style: {stroke: advCols[j], lineWidth: 1}});
  G.push(T(adviceTypes[j], 1285, [819.5, 845.5][j], 32));
});
// D strips
G.push(T(ageGroups[0], 1877.9, 587.1, 32, {align: 'center'}));
G.push(T(ageGroups[1], 2194.2, 587.1, 32, {align: 'center'}));
G.push(T(ageGroups[2], 1877.9, 820.5, 32, {align: 'center'}));
G.push(T(ageGroups[3], 2194.2, 820.5, 32, {align: 'center'}));
// D axis titles
G.push(T('Δ Expected Value [AU]', 2036, 1084.7, 38, {align: 'center'}));
G.push(T('p Choose Risk', 1655, 816, 38, {align: 'center', rot: Math.PI / 2}));
// D legend
G.push(T('Social', 2235, 860, 38));
G.push(T('Cond', 2235, 901.7, 38));
[950.5, 975.5, 1000.5].forEach((y, c) => {
  G.push({type: 'line', silent: true, z: 100, shape: {x1: 2236, y1: y, x2: 2255, y2: y}, style: {stroke: condLine[c], lineWidth: 2}});
  G.push(T(socialConds[c], 2276.4, y, 32));
});

chart.setOption({
  animation: false,
  backgroundColor: '#ffffff',
  textStyle: {fontFamily: FONT},
  grid: grids,
  xAxis: xAxes,
  yAxis: yAxes,
  series: series,
  graphic: {elements: G}
});
</script>
</body></html>
